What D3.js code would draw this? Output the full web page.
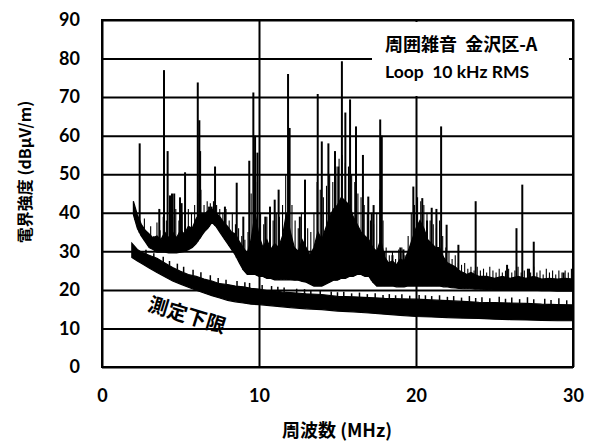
<!DOCTYPE html>
<html>
<head>
<meta charset="utf-8">
<script src="https://cdn.jsdelivr.net/npm/d3@7"></script>
<style>
  body { margin: 0; background: #fff; }
  text { font-family: "Noto Sans CJK JP", "Noto Sans", sans-serif; font-weight: bold; fill: #000; }
</style>
</head>
<body>
<svg id="canvas"></svg>
<script>
// upper curve: ambient noise envelope (MHz, dBuV/m)
let noiseFreq = [2.0, 2.25, 2.5, 2.75, 3.0, 3.25, 3.5, 3.75, 4.0, 4.25, 4.5, 4.75, 5.0, 5.25, 5.5, 5.75,
  6.0, 6.25, 6.5, 6.75, 7.0, 7.25, 7.5, 7.75, 8.0, 8.25, 8.5, 8.75, 9.0, 9.25, 9.5, 9.75,
  10.0, 10.25, 10.5, 10.75, 11.0, 11.25, 11.5, 11.75, 12.0, 12.25, 12.5, 12.75, 13.0, 13.25, 13.5, 13.75,
  14.0, 14.25, 14.5, 14.75, 15.0, 15.25, 15.5, 15.75, 16.0, 16.25, 16.5, 16.75, 17.0, 17.25, 17.5, 17.75,
  18.0, 18.25, 18.5, 18.75, 19.0, 19.25, 19.5, 19.75, 20.0, 20.25, 20.5, 20.75, 21.0, 21.25, 21.5, 21.75,
  22.0, 22.25, 22.5, 22.75, 23.0, 23.25, 23.5, 23.75, 24.0, 24.5, 25.0, 25.5, 26.0, 26.5, 27.0, 27.5,
  28.0, 28.5, 29.0, 29.5, 30.0];
let noiseLo = [39.5, 36, 34, 32.5, 31, 30.5, 29.8, 29.8, 29.8, 29.6, 29.6, 29.6, 29.8, 30, 30.4, 31,
  32, 33.5, 35, 36, 37.5, 36.5, 35, 33.5, 32, 30.5, 29, 27, 25.2, 24, 24, 24,
  23.5, 23.5, 23, 23, 22.6, 22.6, 22.6, 22.6, 22.6, 22.5, 22.5, 22.2, 22, 21.5, 21, 21,
  21, 21.5, 22, 22.5, 22.5, 23, 23, 23.5, 23.5, 24, 24, 23.5, 23.5, 22, 21, 21,
  21, 21, 21, 20.8, 20.8, 20.8, 21, 21, 21, 21, 21, 21, 21, 21, 21, 20.8,
  20.8, 20.6, 20.5, 20.4, 20.3, 20.3, 20.3, 20.2, 20.2, 20.1, 20, 20, 20, 20, 20, 19.9,
  19.8, 19.8, 19.7, 19.7, 19.7];
let noiseHi = [43, 39.5, 37, 35.5, 34.5, 33.5, 34, 33, 35, 33.5, 35, 33.5, 35.5, 34.5, 36.5, 36,
  38.5, 40, 39.5, 40.5, 41, 40, 39, 37.5, 36.5, 35, 34.5, 32.5, 31, 29.5, 33, 40,
  34, 31, 33, 30.5, 32, 31, 34, 40, 35, 31, 30, 33, 31, 29, 31, 35,
  33, 36, 39, 41, 42, 44, 43, 42, 39, 37, 35, 34, 33, 31, 30, 33,
  28.5, 27, 27.5, 26.5, 28, 27.5, 30, 33, 36, 38, 36, 33, 32, 31, 31, 28.5,
  27, 26.5, 26, 25, 24.5, 24, 24.5, 24, 23.5, 23.5, 23, 23.5, 23, 23.5, 23, 23.5,
  22.8, 23, 22.8, 23, 22.8];

// dense short lines on top of the noise band
let grassFreq = [2.1, 2.3, 2.5, 2.7, 2.9, 3.1, 3.3, 3.5, 3.7, 3.9, 4.1, 4.3, 4.5, 4.7, 4.9, 5.1, 5.3, 5.5, 5.7, 5.9,
  6.1, 6.3, 6.5, 6.7, 6.9, 7.1, 7.3, 7.5, 7.7, 7.9, 8.1, 8.3, 8.5, 8.7, 8.9, 9.1, 9.3, 9.5, 9.7, 9.9,
  10.1, 10.3, 10.5, 10.7, 10.9, 11.1, 11.3, 11.5, 11.7, 11.9, 12.1, 12.3, 12.5, 12.7, 12.9, 13.1, 13.3, 13.5, 13.7, 13.9,
  14.1, 14.3, 14.5, 14.7, 14.9, 15.1, 15.3, 15.5, 15.7, 15.9, 16.1, 16.3, 16.5, 16.7, 16.9, 17.1, 17.3, 17.5, 17.7, 17.9,
  18.1, 18.3, 18.5, 18.7, 18.9, 19.1, 19.3, 19.5, 19.7, 19.9, 20.1, 20.3, 20.5, 20.7, 20.9, 21.1, 21.3, 21.5, 21.7, 21.9,
  22.1, 22.3, 22.5, 22.7, 22.9, 23.1, 23.3, 23.5, 23.7, 23.9, 24.1, 24.3, 24.5, 24.7, 24.9, 25.1, 25.3, 25.5, 25.7, 25.9,
  26.1, 26.3, 26.5, 26.7, 26.9, 27.1, 27.3, 27.5, 27.7, 27.9, 28.1, 28.3, 28.5, 28.7, 28.9, 29.1, 29.3, 29.5, 29.7, 29.9];
let grassPeak = [40, 38, 37, 38.5, 35, 36.5, 34, 37.5, 35.5, 39, 38, 40, 39, 41, 38, 40, 39, 41, 40, 42,
  45, 46, 42, 43, 42.5, 43, 42, 41, 40, 41, 38, 40, 37, 36, 34, 33, 35, 45, 50, 48,
  40, 37, 39, 36, 38, 40, 39, 42, 50, 52, 42, 38, 36, 40, 38, 36, 35, 40, 48, 46,
  44, 47, 50, 48, 52, 54, 55, 53, 52, 50, 48, 45, 44, 42, 40, 38, 37, 40, 46, 38,
  31, 29, 30, 28, 30.5, 31, 29, 34, 40, 42, 44, 43, 42, 40, 38, 37, 36, 38, 34, 31,
  30, 28, 29, 27, 26.5, 27, 25.5, 26, 25, 26, 25, 25.5, 24.5, 26, 25, 24.5, 25.5, 24.5, 25, 25.5,
  24.5, 25, 26, 24.5, 25, 25.5, 24.5, 26, 24.5, 25, 24, 25.5, 24.5, 25, 24, 25, 24.5, 25, 24.5, 25.5];

// narrow peaks rising out of the noise
let spikeFreq = [2.4, 3.65, 3.95, 4.18, 4.33, 4.46, 4.6, 4.97, 5.07, 5.29, 6.1, 6.2, 6.25, 6.45, 6.82, 6.98, 7.2,
  7.83, 8.58, 9.0, 9.38, 9.64, 9.75, 9.9, 10.4, 10.7, 11.0, 11.25, 11.85, 11.95, 12.6, 12.93,
  13.74, 14.0, 14.42, 14.84, 15.05, 15.28, 15.5, 15.8, 16.18, 16.62, 16.96, 17.18, 17.3, 17.72, 17.82,
  18.0, 18.5, 19.0, 19.2, 19.83, 20.4, 20.7, 21.0, 21.3, 21.6, 21.95, 22.7, 23.8,
  25.8, 26.4, 26.77, 27.2, 27.5, 29.4];
let spikePeak = [58, 41, 77, 56, 44.5, 45, 45, 44, 42.5, 50.5, 73.8, 64, 56, 38, 41.6, 41.6, 52,
  41.6, 47.8, 39, 53.5, 71.2, 60, 55.6, 39, 41.6, 43.4, 46, 76, 62, 39, 48.6,
  70.8, 58.5, 58, 56, 52, 79.3, 66, 69.4, 62.4, 55, 44.2, 40, 42, 64.2, 60,
  30, 29, 31, 30.5, 46.8, 43.8, 38, 41.3, 41, 62.4, 36.9, 31.7, 43,
  26.5, 36, 47.3, 25.5, 32.5, 24.5];

// lower curve: measurement floor (測定下限)
let floorFreq = [1.9, 2.25, 2.5, 3.0, 3.5, 4.0, 4.5, 5.0, 5.5, 6.0, 6.5, 7.0, 7.5, 8.0, 8.5, 9.0, 9.5,
  10.0, 10.5, 11.0, 11.5, 12.0, 13.0, 14.0, 15.0, 16.0, 17.0, 18.0, 19.0, 20.0, 21.0, 22.0,
  23.0, 24.0, 25.0, 26.0, 27.0, 28.0, 29.0, 30.0];
let floorLo = [28.4, 27.5, 26.9, 25.7, 24.5, 23.4, 22.3, 21.5, 20.7, 19.9, 19.2, 18.5, 17.9, 17.3, 16.9, 16.6, 16.3,
  16.2, 16, 15.8, 15.6, 15.4, 15.1, 14.9, 14.5, 14.3, 14, 13.7, 13.4, 13.1, 13, 12.8,
  12.7, 12.6, 12.4, 12.3, 12.2, 12.1, 12, 12];
let floorHi = [32.1, 30.5, 29.8, 29, 28.2, 27, 25.8, 24.8, 24, 23.5, 22.8, 22.3, 21.6, 21.4, 21, 20.8, 20.4,
  20.2, 19.8, 19.8, 19.4, 19.3, 19, 18.8, 18.3, 18.2, 18, 17.8, 17.7, 17.6, 17.4, 17.2,
  17, 16.8, 16.7, 16.6, 16.5, 16.3, 16.2, 16.1];
let floorSpikeFreq = [2.8, 3.3, 3.9, 4.3, 4.8, 5.2, 5.8, 6.3, 6.9, 7.4, 7.9, 8.6, 9.1, 9.4, 10.2, 10.8, 11.2, 11.6,
  12.4, 12.9, 13.3, 13.9, 14.6, 15.0, 15.4, 15.9, 16.4, 16.9, 17.4, 17.9, 18.3, 18.7,
  19.1, 19.6, 20.2, 20.6, 21.0, 21.5, 22.0, 22.4, 22.9, 23.4, 23.8, 24.2, 24.7, 25.3, 25.7, 26.1, 26.6,
  27.1, 27.5, 28.2, 28.6, 29.1, 29.6];
let floorSpikePeak = [30.4, 29.5, 28.6, 27.5, 26.8, 26, 25.2, 24.6, 23.8, 23.1, 22.6, 22.3, 22, 21.8, 21.3, 21, 20.8, 20.6,
  20.3, 20.2, 20, 19.8, 19.6, 19.4, 19.5, 19.1, 19.3, 18.9, 19.1, 18.7, 18.9, 18.6,
  18.9, 18.5, 18.7, 18.6, 18.4, 18.6, 18.2, 18.4, 18, 18.4, 17.9, 18.1, 17.8, 18.2, 17.7, 18, 17.6,
  18.1, 17.6, 17.7, 17.4, 17.8, 17.3];

let xTicks = [0, 10, 20, 30];
let yTicks = [0, 10, 20, 30, 40, 50, 60, 70, 80, 90];

let width = 590;
let height = 444;

let canvas = d3.select("#canvas").attr("width", width).attr("height", height);

let xScale = d3.scaleLinear().domain([0, 30]).range([102, 573]);
let yScale = d3.scaleLinear().domain([0, 90]).range([367, 20]);

// base of each peak follows the edge of its band
let noiseBase = d3.scaleLinear().domain(noiseFreq).range(noiseLo);
let floorTop = d3.scaleLinear().domain(floorFreq).range(floorHi);

let drawBand = (freq, lo, hi) => {
  let area = d3.area()
    .x((d, i) => xScale(freq[i]))
    .y0((d, i) => yScale(lo[i]))
    .y1((d, i) => yScale(hi[i]));
  canvas.append("path")
    .datum(freq)
    .attr("d", area)
    .attr("fill", "#000")
    .attr("stroke", "#000")
    .attr("stroke-width", 1.2);
};

let drawSpikes = (freq, peak, base, w) => {
  canvas.append("g")
    .selectAll("line")
    .data(freq)
    .enter()
    .append("line")
    .attr("x1", (d) => xScale(d))
    .attr("x2", (d) => xScale(d))
    .attr("y1", (d) => yScale(base(d)))
    .attr("y2", (d, i) => yScale(peak[i]))
    .attr("stroke", "#000")
    .attr("stroke-width", w);
};

drawBand(floorFreq, floorLo, floorHi);
drawSpikes(floorSpikeFreq, floorSpikePeak, floorTop, 1.5);

drawBand(noiseFreq, noiseLo, noiseHi);
drawSpikes(grassFreq, grassPeak, noiseBase, 1.1);
drawSpikes(spikeFreq, spikePeak, noiseBase, 2);

// grid lines
canvas.append("g")
  .attr("transform", "translate(102,0)")
  .call(d3.axisLeft(yScale).tickValues(yTicks).tickSize(-471).tickFormat(""))
  .call((g) => g.select(".domain").remove())
  .selectAll("line")
  .attr("stroke", "#000")
  .attr("stroke-width", 2);

canvas.append("g")
  .attr("transform", "translate(0,367)")
  .call(d3.axisBottom(xScale).tickValues(xTicks).tickSize(-347).tickFormat(""))
  .call((g) => g.select(".domain").remove())
  .selectAll("line")
  .attr("stroke", "#000")
  .attr("stroke-width", 2);

// legend box
canvas.append("rect")
  .attr("x", 372).attr("y", 22)
  .attr("width", 197).attr("height", 74)
  .attr("fill", "#fff");

canvas.append("text")
  .attr("x", 385).attr("y", 51)
  .attr("font-size", 18)
  .text("周囲雑音\u00a0\u00a0金沢区-A");

canvas.append("text")
  .attr("x", 385).attr("y", 78)
  .attr("font-size", 17.5)
  .style("font-family", "Lato, 'Open Sans', sans-serif")
  .text("Loop\u00a0\u00a010 kHz RMS");

// tick labels
let yAxis = d3.axisLeft(yScale).tickValues(yTicks).tickSize(0).tickPadding(22);
canvas.append("g")
  .attr("transform", "translate(102,0)")
  .call(yAxis)
  .call((g) => g.select(".domain").remove())
  .selectAll("text")
  .attr("font-size", 18)
  .style("font-family", "Lato, 'Open Sans', sans-serif");

let xAxis = d3.axisBottom(xScale).tickValues(xTicks).tickSize(0).tickPadding(22);
canvas.append("g")
  .attr("transform", "translate(0,367)")
  .call(xAxis)
  .call((g) => g.select(".domain").remove())
  .selectAll("text")
  .attr("font-size", 18)
  .style("font-family", "Lato, 'Open Sans', sans-serif");

canvas.selectAll(".tick text").attr("fill", "#000");

// axis titles
canvas.append("text")
  .attr("transform", "translate(31,172) rotate(-90)")
  .attr("text-anchor", "middle")
  .attr("font-size", 16)
  .text("電界強度 (dBμV/m)");

canvas.append("text")
  .attr("x", 337).attr("y", 437)
  .attr("text-anchor", "middle")
  .attr("font-size", 18)
  .text("周波数 (MHz)");

canvas.append("text")
  .attr("transform", "translate(185,322) rotate(17)")
  .attr("text-anchor", "middle")
  .attr("font-size", 20)
  .text("測定下限");

// plot border
canvas.append("rect")
  .attr("x", 102).attr("y", 20)
  .attr("width", 471).attr("height", 347)
  .attr("fill", "none")
  .attr("stroke", "#000")
  .attr("stroke-width", 2);
</script>
</body>
</html>
